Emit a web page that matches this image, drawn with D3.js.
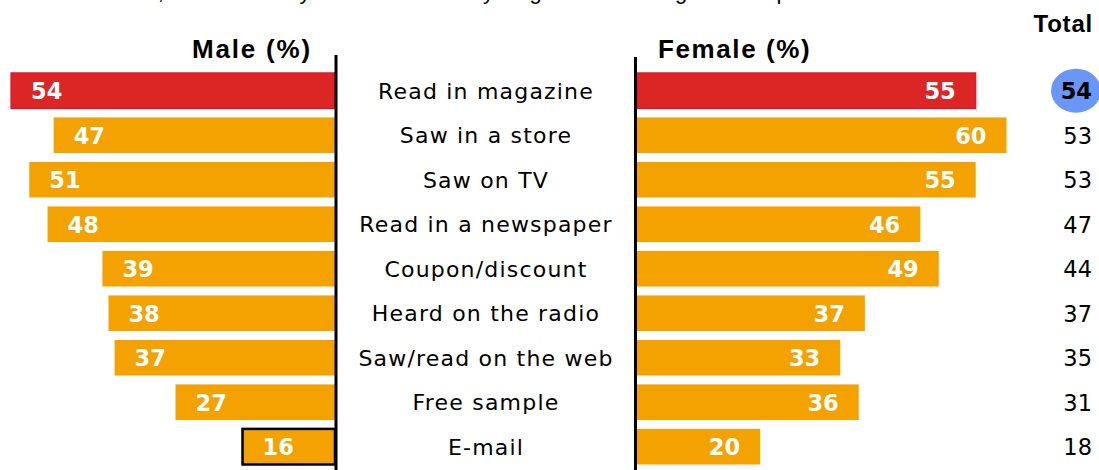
<!DOCTYPE html>
<html>
<head>
<meta charset="utf-8">
<script src="https://cdn.jsdelivr.net/npm/d3@7"></script>
<style>
  html, body { margin: 0; padding: 0; background: #fff; }
  svg { display: block; }
</style>
</head>
<body>
<svg id="chart" width="1099" height="470"></svg>
<script>
const categories = [
  "Read in magazine", "Saw in a store", "Saw on TV", "Read in a newspaper",
  "Coupon/discount", "Heard on the radio", "Saw/read on the web",
  "Free sample", "E-mail"
];
const male = [54, 47, 51, 48, 39, 38, 37, 27, 16];
const female = [55, 60, 55, 46, 49, 37, 33, 36, 20];
const total = [54, 53, 53, 47, 44, 37, 35, 31, 18];
const headers = { male: "Male (%)", female: "Female (%)", total: "Total" };
const titleText = "Overall, where would you see or hear anything about the long-awaited product?";

const rows = categories.map((c, i) => ({ cat: c, m: male[i], f: female[i], t: total[i], i }));

const svg = d3.select("#chart");
const ORANGE = "#f3a202", RED = "#dc2626", RED_EDGE = "#e3122c";
const AXIS_M = 336, AXIS_F = 635.5;

const y = d3.scaleBand().domain(categories)
  .range([64.0, 64.0 + 9.2 * 44.5]).paddingInner(0.2).paddingOuter(0.2);
const xM = d3.scaleLinear().domain([0, 54]).range([340, 11]);
const xF = d3.scaleLinear().domain([0, 60]).range([637, 1006.5]);

const VAL_FONT = "'DejaVu Sans', sans-serif";
const HEAD_FONT = "'Liberation Sans', Arial, sans-serif";

// clipped title line at top
svg.append("text").attr("x", 88).attr("y", -1)
  .attr("font-family", HEAD_FONT).attr("font-size", 22)
  .attr("fill", "#000").text(titleText);

// headers
svg.append("text").attr("x", 192).attr("y", 57.5)
  .attr("font-family", HEAD_FONT).attr("font-weight", "bold")
  .attr("font-size", 26).attr("letter-spacing", 1.8).attr("fill", "#000").text(headers.male);
svg.append("text").attr("x", 658).attr("y", 57.5)
  .attr("font-family", HEAD_FONT).attr("font-weight", "bold")
  .attr("font-size", 26).attr("letter-spacing", 1.6).attr("fill", "#000").text(headers.female);
svg.append("text").attr("x", 1093).attr("y", 31.5).attr("text-anchor", "end")
  .attr("font-family", HEAD_FONT).attr("font-weight", "bold")
  .attr("font-size", 24).attr("letter-spacing", 0.8).attr("fill", "#000").text(headers.total);

// male bars (clipped at the axis line)
svg.append("g").selectAll("rect").data(rows).join("rect")
  .attr("x", d => xM(d.m)).attr("y", d => y(d.cat))
  .attr("width", d => AXIS_M - 1 - xM(d.m)).attr("height", y.bandwidth())
  .attr("fill", d => d.i === 0 ? RED : ORANGE)
  .attr("stroke", d => d.i === 0 ? RED_EDGE : (d.i === 8 ? "#000" : "none"))
  .attr("stroke-width", d => d.i === 8 ? 2.5 : 1.2);

// female bars
svg.append("g").selectAll("rect").data(rows).join("rect")
  .attr("x", xF(0)).attr("y", d => y(d.cat))
  .attr("width", d => xF(d.f) - xF(0)).attr("height", y.bandwidth())
  .attr("fill", d => d.i === 0 ? RED : ORANGE)
  .attr("stroke", d => d.i === 0 ? RED_EDGE : "none")
  .attr("stroke-width", 1.2);

// axis lines
svg.append("line").attr("x1", AXIS_M).attr("x2", AXIS_M).attr("y1", 55).attr("y2", 470)
  .attr("stroke", "#000").attr("stroke-width", 3);
svg.append("line").attr("x1", AXIS_F).attr("x2", AXIS_F).attr("y1", 57).attr("y2", 470)
  .attr("stroke", "#000").attr("stroke-width", 3);

const cy = d => y(d.cat) + y.bandwidth() / 2;

// male value labels
svg.append("g").selectAll("text").data(rows).join("text")
  .attr("x", d => xM(d.m) + 20).attr("y", d => cy(d) + 8.3)
  .attr("font-family", VAL_FONT).attr("font-weight", "bold").attr("font-size", 22.5)
  .attr("fill", "#fff").text(d => d.m);

// female value labels
svg.append("g").selectAll("text").data(rows).join("text")
  .attr("x", d => xF(d.f) - 20).attr("y", d => cy(d) + 8.3).attr("text-anchor", "end")
  .attr("font-family", VAL_FONT).attr("font-weight", "bold").attr("font-size", 22.5)
  .attr("fill", "#fff").text(d => d.f);

// category labels
svg.append("g").selectAll("text").data(rows).join("text")
  .attr("x", 486).attr("y", d => cy(d) + 8).attr("text-anchor", "middle")
  .attr("font-family", VAL_FONT).attr("font-size", 22).attr("letter-spacing", 1.2)
  .attr("fill", "#000")
  .text(d => d.cat);

// total highlight ellipse
svg.append("ellipse").attr("cx", 1076).attr("cy", cy(rows[0]))
  .attr("rx", 25).attr("ry", 22).attr("fill", "#6a96f7");

// total values
svg.append("g").selectAll("text").data(rows).join("text")
  .attr("x", 1092).attr("y", d => cy(d) + 8.3).attr("text-anchor", "end")
  .attr("font-family", VAL_FONT).attr("font-weight", d => d.i === 0 ? "bold" : "normal")
  .attr("font-size", 22.5).attr("fill", "#000").text(d => d.t);
</script>
</body>
</html>
